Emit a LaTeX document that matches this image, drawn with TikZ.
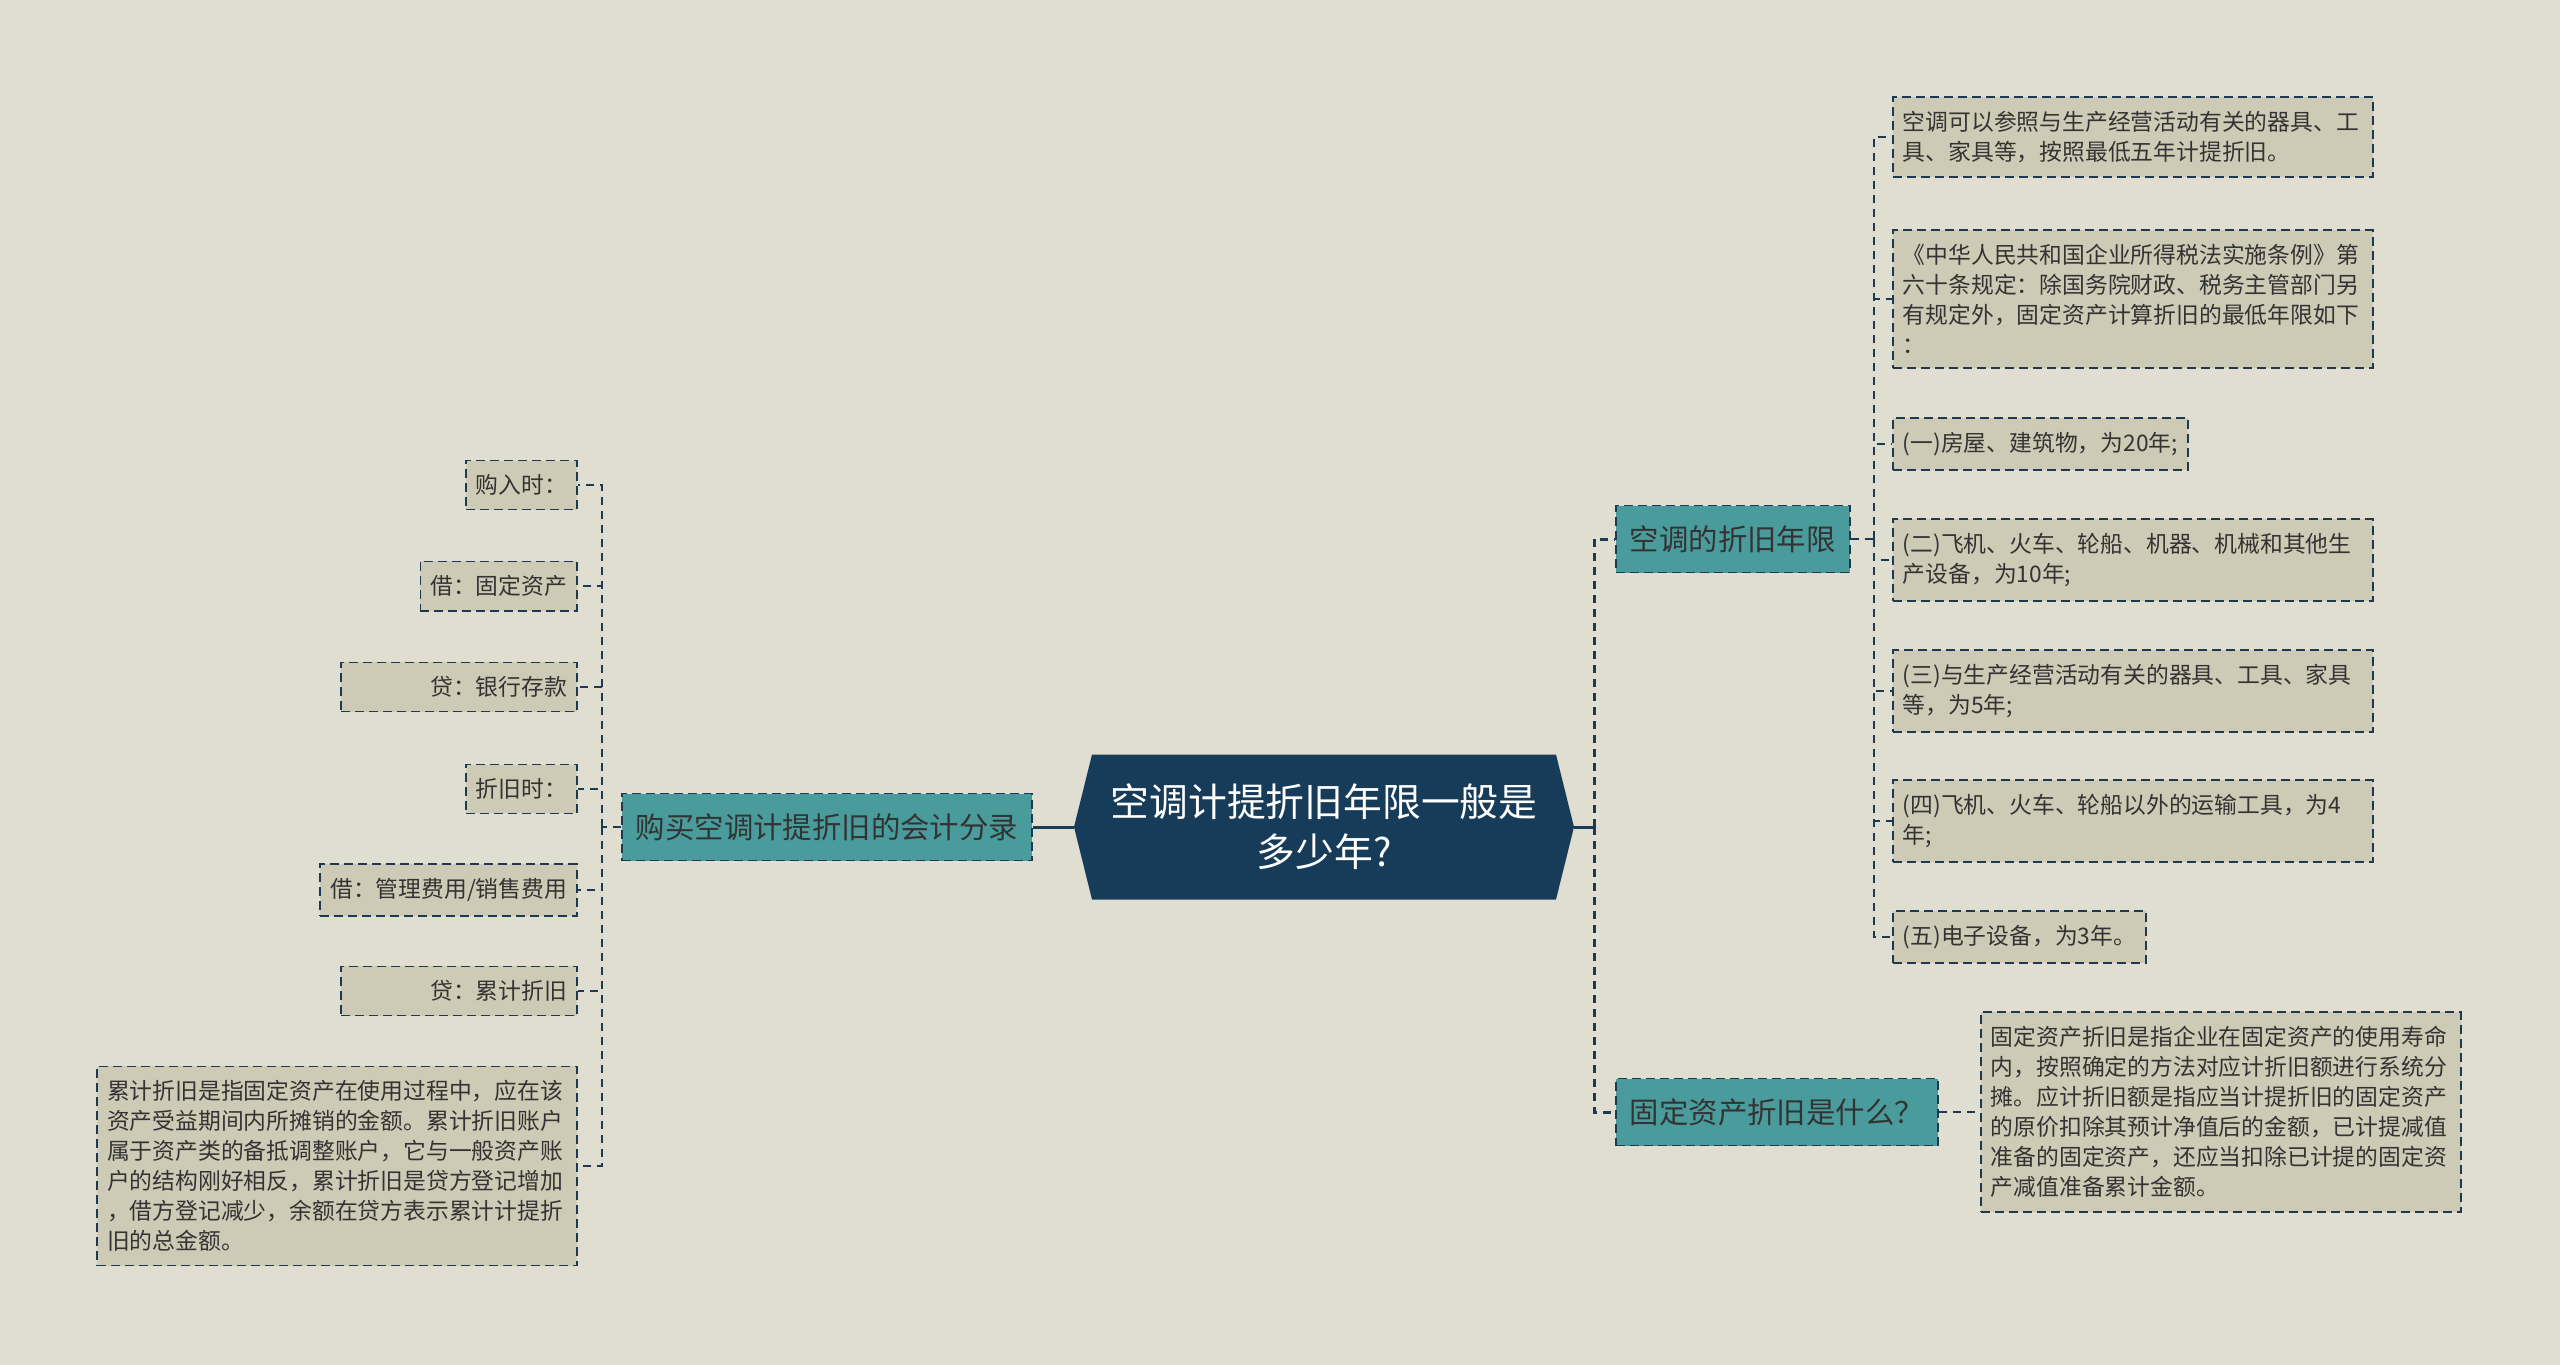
\documentclass[tikz,border=0pt]{standalone}
\usepackage{fontspec}
\setmainfont{Noto Sans CJK SC}
\definecolor{paper}{HTML}{DFDED0}
\definecolor{leaffill}{HTML}{CDCBB5}
\definecolor{branchfill}{HTML}{4A9B9B}
\definecolor{navy}{HTML}{173C5A}
\definecolor{edgeblue}{HTML}{1E3A52}
\definecolor{ink}{HTML}{333333}

\begin{document}
\begin{tikzpicture}[x=0.5pt,y=-0.5pt,
	hub/.style={minimum width=250pt,minimum height=72.5pt,inner sep=0pt,align=center,text=white,
		font=\fontsize{19.4}{25}\selectfont,
		path picture={\fill[navy]([xshift=9pt]path picture bounding box.north west)--([xshift=-9pt]path picture bounding box.north east)--(path picture bounding box.east)--([xshift=-9pt]path picture bounding box.south east)--([xshift=9pt]path picture bounding box.south west)--(path picture bounding box.west)--cycle;}},
	branch/.style={draw=edgeblue,fill=branchfill,line width=0.9pt,dash pattern=on 4.5pt off 2.5pt,
		inner xsep=7pt,minimum height=33.5pt,text=ink,font=\fontsize{14.7}{18}\selectfont},
	leaf/.style={draw=edgeblue,fill=leaffill,line width=0.85pt,dash pattern=on 4.5pt off 2.5pt,
		inner xsep=5pt,inner ysep=7pt,text=ink,font=\fontsize{11.4}{15}\selectfont},
	hubline/.style={draw=navy,line width=1.5pt},
	trunk/.style={draw=edgeblue,line width=1.5pt,dash pattern=on 4pt off 3pt},
	twig/.style={draw=edgeblue,line width=0.9pt,dash pattern=on 4pt off 3pt}]
	\fill[paper](0,0)rectangle(2560,1365);
	\useasboundingbox(0,0)rectangle(2560,1365);

	\node[hub] at (1324,827)(0){空调计提折旧年限一般是\\多少年?};

	% left side
	\node[branch,anchor=east] at (1033,827)(1){购买空调计提折旧的会计分录};
	\node[leaf,anchor=east] at (578,485)(11){购入时：};
	\node[leaf,anchor=east] at (578,586)(12){借：固定资产};
	\node[leaf,anchor=east,text width=108pt,align=right] at (578,687)(13){贷：银行存款};
	\node[leaf,anchor=east] at (578,789)(14){折旧时：};
	\node[leaf,anchor=east] at (578,890)(15){借：管理费用/销售费用};
	\node[leaf,anchor=east,text width=108pt,align=right] at (578,991)(16){贷：累计折旧};
	\node[leaf,anchor=east,text width=230pt,align=left] at (578,1166)(17){累计折旧是指固定资产在使用过程中，应在该\\资产受益期间内所摊销的金额。累计折旧账户\\属于资产类的备抵调整账户，它与一般资产账\\户的结构刚好相反，累计折旧是贷方登记增加\\，借方登记减少，余额在贷方表示累计计提折\\旧的总金额。};

	% right side
	\node[branch,anchor=west] at (1615,539)(2){空调的折旧年限};
	\node[leaf,anchor=west,text width=230pt,align=left] at (1892,137)(21){空调可以参照与生产经营活动有关的器具、工\\具、家具等，按照最低五年计提折旧。};
	\node[leaf,anchor=west,text width=230pt,align=left] at (1892,299)(22){《中华人民共和国企业所得税法实施条例》第\\六十条规定：除国务院财政、税务主管部门另\\有规定外，固定资产计算折旧的最低年限如下\\：};
	\node[leaf,anchor=west] at (1892,444)(23){(一)房屋、建筑物，为20年;};
	\node[leaf,anchor=west,text width=230pt,align=left] at (1892,560)(24){(二)飞机、火车、轮船、机器、机械和其他生\\产设备，为10年;};
	\node[leaf,anchor=west,text width=230pt,align=left] at (1892,691)(25){(三)与生产经营活动有关的器具、工具、家具\\等，为5年;};
	\node[leaf,anchor=west,text width=230pt,align=left] at (1892,821)(26){(四)飞机、火车、轮船以外的运输工具，为4\\年;};
	\node[leaf,anchor=west] at (1892,937)(27){(五)电子设备，为3年。};

	\node[branch,anchor=west] at (1615,1112)(3){固定资产折旧是什么？};
	\node[leaf,anchor=west,text width=230pt,align=left] at (1980,1112)(31){固定资产折旧是指企业在固定资产的使用寿命\\内，按照确定的方法对应计折旧额进行系统分\\摊。应计折旧额是指应当计提折旧的固定资产\\的原价扣除其预计净值后的金额，已计提减值\\准备的固定资产，还应当扣除已计提的固定资\\产减值准备累计金额。};

	% connectors
	\draw[hubline](0.west)--(1.east);
	\draw[hubline](0.east)--++(20,0)coordinate(t0);
	\draw[trunk](t0)|-(2.west) (t0)|-(3.west);
	\draw[twig](1.west)--++(-19,0)coordinate(t1);
	\draw[twig](t1)|-(11.east) (t1)|-(12.east) (t1)|-(13.east) (t1)|-(14.east) (t1)|-(15.east) (t1)|-(16.east) (t1)|-(17.east);
	\draw[twig](2.east)--++(23,0)coordinate(t2);
	\draw[twig](t2)|-(21.west) (t2)|-(22.west) (t2)|-(23.west) (t2)|-(24.west) (t2)|-(25.west) (t2)|-(26.west) (t2)|-(27.west);
	\draw[twig](3.east)--(31.west);
\end{tikzpicture}
\end{document}
